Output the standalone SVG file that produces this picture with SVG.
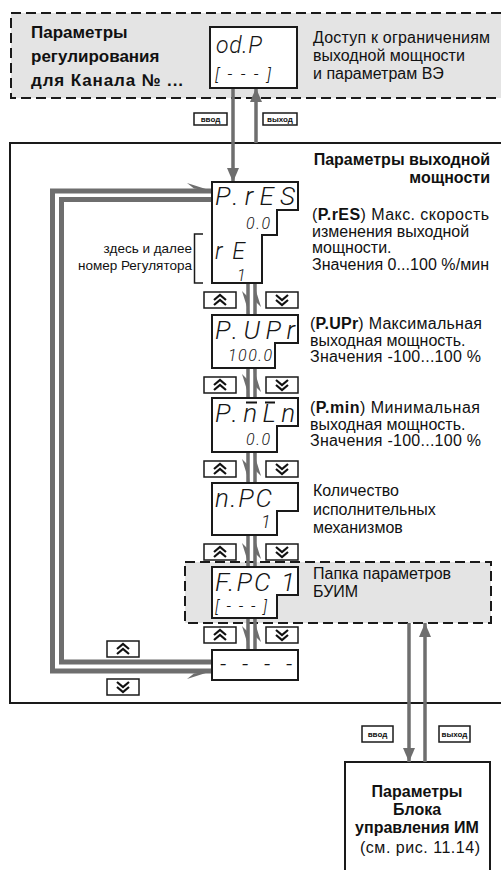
<svg xmlns="http://www.w3.org/2000/svg" xmlns:xlink="http://www.w3.org/1999/xlink" width="501" height="870" viewBox="0 0 501 870">
<style>
text{font-family:"Liberation Sans",Arial,sans-serif;fill:#111}
.t{font-size:17px;font-weight:bold}
.h{font-size:16px;font-weight:bold}
.d{font-size:16px}
.n{font-size:13.5px}
.seg{font-family:Roboto,"Liberation Sans",sans-serif;font-style:italic;font-weight:300;fill:#151515}
.lb{font-size:8px;font-weight:bold;text-anchor:middle}
.box{fill:#fff;stroke:#1a1a1a;stroke-width:2}
.dash{fill:#e4e4e4;stroke:#1a1a1a;stroke-width:2;stroke-dasharray:10 5}
.g{stroke:#6e6e6e;stroke-width:3.5;fill:none}
.gl{stroke:#6e6e6e;stroke-width:5;fill:none}
.gh{fill:#6e6e6e}
.lbox{fill:#fff;stroke:#1a1a1a;stroke-width:1.5}
.chev{fill:none;stroke:#111;stroke-width:2.2}
</style>
<defs>
<marker id="ah" viewBox="0 0 14 12" refX="14" refY="6" markerWidth="14" markerHeight="12" markerUnits="userSpaceOnUse" orient="auto"><path d="M0,0 L14,6 L0,12 z" fill="#6e6e6e"/></marker>
<g id="bup"><rect class="lbox" x="0" y="0" width="32" height="16"/><polyline class="chev" points="10,8 16,3 22,8"/><polyline class="chev" points="10,13 16,8 22,13"/></g>
<g id="bdn"><rect class="lbox" x="0" y="0" width="32" height="16"/><polyline class="chev" points="10,3 16,8 22,3"/><polyline class="chev" points="10,8 16,13 22,8"/></g>
</defs>

<!-- top dashed area -->
<g id="channel">
<rect class="dash" x="11" y="13" width="500" height="85"/>
<text class="t" x="31" y="38">Параметры</text>
<text class="t" x="31" y="62">регулирования</text>
<text class="t" x="31" y="86" textLength="152" lengthAdjust="spacing">для Канала № ...</text>
<text class="d" x="313" y="43" textLength="177" lengthAdjust="spacing">Доступ к ограничениям</text>
<text class="d" x="313" y="61">выходной мощности</text>
<text class="d" x="313" y="79">и параметрам ВЭ</text>
</g>

<!-- main box -->
<g id="main">
<rect class="box" x="10" y="143" width="500" height="560"/>
<text class="h" x="490" y="165" text-anchor="end">Параметры выходной</text>
<text class="h" x="490" y="183" text-anchor="end">мощности</text>
</g>

<!-- bottom box -->
<g id="buim">
<rect class="box" x="345" y="762" width="145" height="120"/>
<text class="h" x="417" y="797" text-anchor="middle">Параметры</text>
<text class="h" x="417" y="815" text-anchor="middle">Блока</text>
<text class="h" x="417" y="833" text-anchor="middle">управления ИМ</text>
<text class="d" x="360" y="853" textLength="120" lengthAdjust="spacing">(см. рис. 11.14)</text>
</g>

<!-- folder -->
<g id="folder">
<rect class="dash" x="185" y="562" width="306" height="61"/>
<text class="d" x="313" y="579">Папка параметров</text>
<text class="d" x="313" y="597">БУИМ</text>
</g>

<!-- connectors -->
<g id="connectors">
<line class="g" x1="233" y1="88" x2="233" y2="182" marker-end="url(#ah)"/>
<line class="g" x1="256" y1="143" x2="256" y2="88" marker-end="url(#ah)"/>
<line class="g" x1="409" y1="623" x2="409" y2="762" marker-end="url(#ah)"/>
<line class="g" x1="425" y1="762" x2="425" y2="623" marker-end="url(#ah)"/>
<path class="g" d="M248,283 V315 M255,283 V315 M248,368 V398 M255,368 V398 M248,452 V483 M255,452 V483 M248,535 V567 M255,535 V567 M248,618 V650 M255,618 V650"/>
<path class="gh" d="M249.5,315 L242,291 L248,297 Z M253.5,283 L261,307 L255,301 Z M249.5,398 L242,374 L248,380 Z M253.5,368 L261,392 L255,386 Z M249.5,483 L242,459 L248,465 Z M253.5,452 L261,476 L255,470 Z M249.5,567 L242,543 L248,549 Z M253.5,535 L261,559 L255,553 Z M249.5,650 L242,626 L248,632 Z M253.5,618 L261,642 L255,636 Z"/>
<path class="gl" d="M211,671 H52.5 V191 H211"/>
<path class="gl" d="M211,662 H61.5 V199.5 H212"/>
<path class="gh" d="M212,191 L187,183 L194,188.5 Z M212,671 L187,679 L194,673.5 Z"/>
<rect class="lbox" x="194" y="113" width="33" height="12"/><text class="lb" x="210.5" y="122">ввод</text>
<rect class="lbox" x="263" y="113" width="34" height="12"/><text class="lb" x="280" y="122">выход</text>
<rect class="lbox" x="362" y="726" width="31" height="16"/><text class="lb" x="377.5" y="737">ввод</text>
<rect class="lbox" x="439" y="726" width="31" height="16"/><text class="lb" x="454.5" y="737">выход</text>
<use xlink:href="#bup" x="204" y="292"/><use xlink:href="#bdn" x="266" y="292"/>
<use xlink:href="#bup" x="204" y="377"/><use xlink:href="#bdn" x="266" y="377"/>
<use xlink:href="#bup" x="204" y="461"/><use xlink:href="#bdn" x="266" y="461"/>
<use xlink:href="#bup" x="204" y="544"/><use xlink:href="#bdn" x="266" y="544"/>
<use xlink:href="#bup" x="204" y="627"/><use xlink:href="#bdn" x="266" y="627"/>
<use xlink:href="#bup" x="107" y="641"/><use xlink:href="#bdn" x="107" y="679"/>
</g>

<!-- displays -->
<g id="odP">
<rect class="box" x="210" y="27" width="87" height="61"/>
<text class="seg" x="216" y="53" font-size="23" textLength="46" lengthAdjust="spacing">od.P</text>
<text class="seg" x="215" y="80" font-size="17" textLength="56" lengthAdjust="spacing">[---]</text>
</g>

<g id="PrES">
<path class="box" d="M212,182 H298 V210 H277 V235 H262 V283 H212 Z"/>
<text class="seg" x="215" y="205" font-size="26" textLength="80" lengthAdjust="spacing">P.rES</text>
<text class="seg" x="246" y="229" font-size="16" textLength="24" lengthAdjust="spacing">0.0</text>
<text class="seg" x="215" y="259" font-size="23" textLength="30" lengthAdjust="spacing">rE</text>
<text class="seg" x="237" y="281" font-size="16">1</text>
<path d="M203,234 H194.5 V283 H203" fill="none" stroke="#1a1a1a" stroke-width="1.5"/>
<text class="n" x="192" y="253" text-anchor="end">здесь и далее</text>
<text class="n" x="192" y="270" text-anchor="end">номер Регулятора</text>
<text class="d" x="312" y="220" textLength="177" lengthAdjust="spacing"><tspan>(</tspan><tspan font-weight="bold">P.rES</tspan><tspan>) Макс. скорость</tspan></text>
<text class="d" x="312" y="236.5">изменения выходной</text>
<text class="d" x="312" y="253">мощности.</text>
<text class="d" x="312" y="269.5" textLength="177" lengthAdjust="spacing">Значения 0...100 %/мин</text>
</g>

<g id="PUPr">
<path class="box" d="M212,315 H298 V343 H275 V368 H212 Z"/>
<text class="seg" x="215" y="339" font-size="26" textLength="80" lengthAdjust="spacing">P.UPr</text>
<text class="seg" x="228" y="361" font-size="16" textLength="44" lengthAdjust="spacing">100.0</text>
<text class="d" x="310" y="329" textLength="172" lengthAdjust="spacing"><tspan>(</tspan><tspan font-weight="bold">P.UPr</tspan><tspan>) Максимальная</tspan></text>
<text class="d" x="310" y="345.5">выходная мощность.</text>
<text class="d" x="310" y="362" textLength="171" lengthAdjust="spacing">Значения -100...100 %</text>
</g>

<g id="Pmin">
<path class="box" d="M212,398 H298 V426 H277 V452 H212 Z"/>
<text class="seg" x="215" y="422" font-size="26" textLength="80" lengthAdjust="spacing">P.nLn</text>
<path d="M246,402.5 H257 M265,402.5 H275" stroke="#151515" stroke-width="1.8"/>
<text class="seg" x="246" y="445" font-size="16" textLength="24" lengthAdjust="spacing">0.0</text>
<text class="d" x="310" y="413" textLength="170" lengthAdjust="spacing"><tspan>(</tspan><tspan font-weight="bold">P.min</tspan><tspan>) Минимальная</tspan></text>
<text class="d" x="310" y="429.5">выходная мощность.</text>
<text class="d" x="310" y="446" textLength="171" lengthAdjust="spacing">Значения -100...100 %</text>
</g>

<g id="nPC">
<path class="box" d="M212,483 H298 V511 H277 V535 H212 Z"/>
<text class="seg" x="215" y="507" font-size="26" textLength="57" lengthAdjust="spacing">n.PC</text>
<text class="seg" x="261" y="528" font-size="18">1</text>
<text class="d" x="313" y="496">Количество</text>
<text class="d" x="313" y="515">исполнительных</text>
<text class="d" x="313" y="533">механизмов</text>
</g>

<g id="FPC1">
<path class="box" d="M212,567 H298 V595 H277 V618 H212 Z"/>
<text class="seg" x="215" y="591" font-size="26" textLength="80" lengthAdjust="spacing">F.PC 1</text>
<text class="seg" x="215" y="612" font-size="16" textLength="52" lengthAdjust="spacing">[---]</text>
</g>

<g id="end">
<rect class="box" x="212" y="650" width="86" height="30"/>
<text class="seg" x="220" y="672" font-size="22" textLength="72" lengthAdjust="spacing">----</text>
</g>
</svg>
